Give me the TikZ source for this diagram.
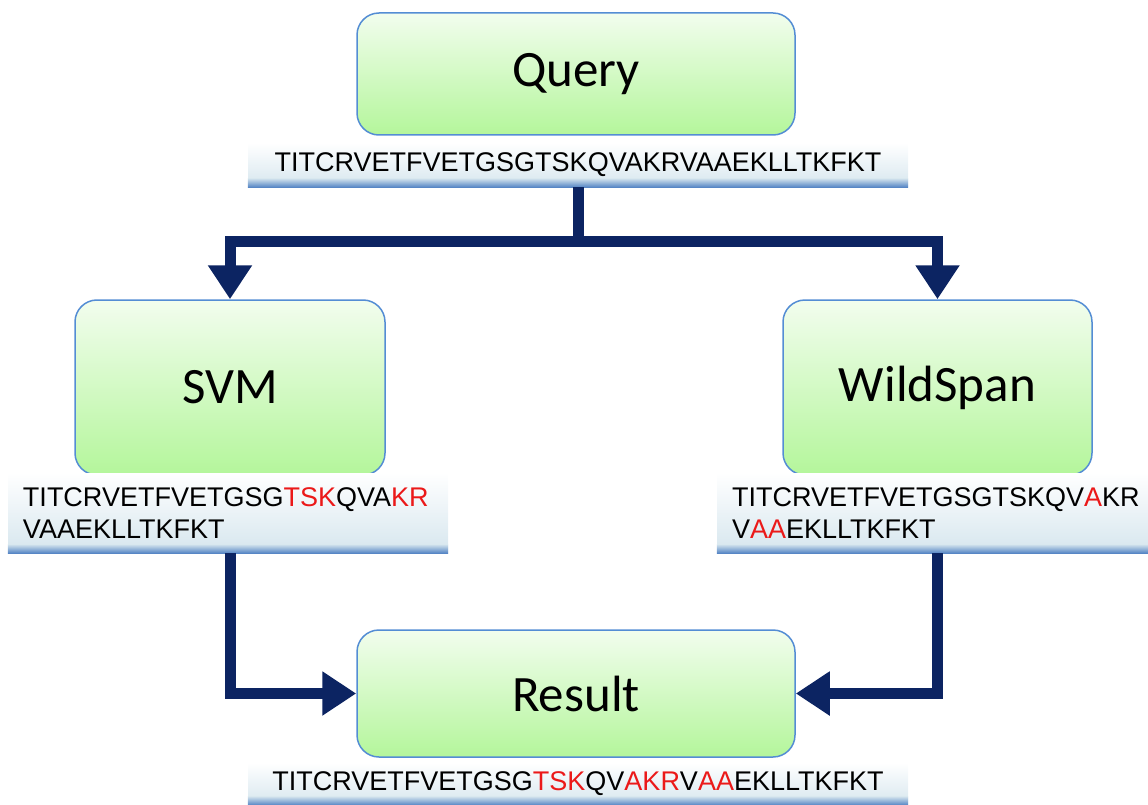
\documentclass[tikz,border=0pt]{standalone}
\usepackage{fontspec}
\usetikzlibrary{arrows.meta}
\newfontfamily\boxfont{Carlito}
\newfontfamily\seqfont{Liberation Sans}
\definecolor{navy}{RGB}{12,36,98}
\definecolor{boxline}{RGB}{84,141,212}
\definecolor{boxtop}{RGB}{242,253,238}
\definecolor{boxbottom}{RGB}{180,246,155}
\definecolor{stripmid}{RGB}{214,230,238}
\definecolor{stripband}{RGB}{84,132,196}
\definecolor{hit}{RGB}{235,25,25}
\newcommand{\hl}[1]{\textcolor{hit}{#1}}
\tikzset{
	stage/.style = {draw = boxline, line width = 1.5pt, rounded corners = 22pt, top color = boxtop, bottom color = boxbottom, inner sep = 0pt, font = \boxfont\fontsize{51}{60}\selectfont},
	seqstrip/.style = {top color = white, bottom color = stripmid, inner sep = 0pt, font = \seqfont\fontsize{27}{32}\selectfont},
	flow/.style = {draw = navy, line width = 11pt, -{Triangle[width = 42pt, length = 34pt]}}
}
\begin{document}
\begin{tikzpicture}[x = 1pt, y = -1pt]
		\useasboundingbox (0, 0) rectangle (1148, 805);
		% boxes
		\node [stage, minimum width = 438pt, minimum height = 122pt] (query) at (576, 74) {Query};
		\node [stage, minimum width = 310pt, minimum height = 175pt] (svm) at (230, 387.5) {SVM};
		\node [stage, minimum width = 309pt, minimum height = 175pt] (wildspan) at (937.5, 387.5) {WildSpan};
		\node [stage, minimum width = 438pt, minimum height = 127pt] (result) at (576, 693.5) {Result};
		% sequences
		\node [seqstrip, minimum width = 660pt, minimum height = 44pt] (queryseq) at (578, 165)
			{TITCRVETFVETGSGTSKQVAKRVAAEKLLTKFKT};
		\node [seqstrip, minimum width = 440pt, minimum height = 80pt, inner xsep = 15pt, text width = 410pt, align = left] (svmseq) at (228, 513)
			{TITCRVETFVETGSG\hl{TSK}QVA\hl{KR}\\VAAEKLLTKFKT};
		\node [seqstrip, minimum width = 431pt, minimum height = 80pt, inner xsep = 15pt, text width = 401pt, align = left] (wildseq) at (932.5, 513)
			{TITCRVETFVETGSGTSKQV\hl{A}KR\\V\hl{AA}EKLLTKFKT};
		\node [seqstrip, minimum width = 660pt, minimum height = 42pt] (resultseq) at (578, 784)
			{TITCRVETFVETGSG\hl{TSK}QV\hl{AKR}V\hl{AA}EKLLTKFKT};
		\foreach \s in {queryseq, svmseq, wildseq, resultseq}
			\shade [top color = stripmid, bottom color = stripband] ([yshift = 9pt]\s.south west) rectangle (\s.south east);
		% connectors
		\coordinate (split) at (578, 241);
		\draw [flow] (queryseq.south) -- (split) -| (svm.north);
		\draw [flow] (split) -| (wildspan.north);
		\draw [flow] (svmseq.south -| svm.north) |- (result.west);
		\draw [flow] (wildseq.south -| wildspan.north) |- (result.east);
	\end{tikzpicture}
\end{document}
